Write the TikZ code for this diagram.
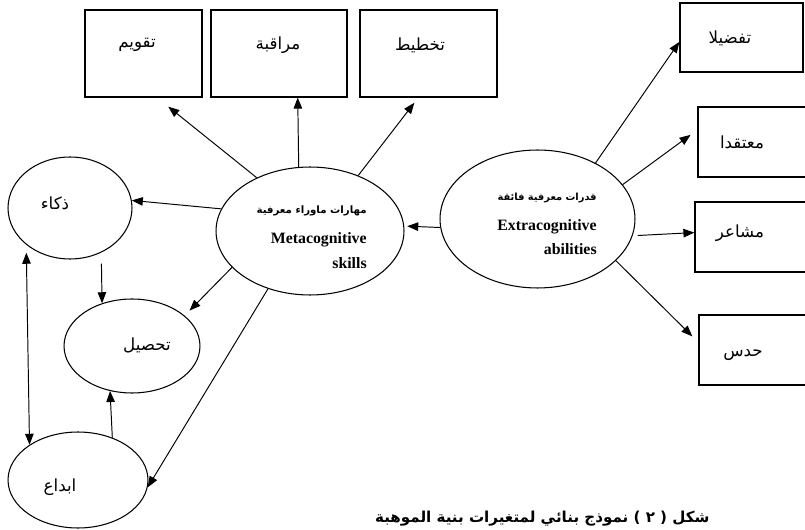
\documentclass[tikz,border=0pt]{standalone}
\usepackage{fontspec}
\setmainfont{Liberation Serif}
\newfontfamily\arabicfont[Script=Arabic]{DejaVu Sans}
\TeXXeTstate=1
\usetikzlibrary{shapes.geometric,arrows.meta}
\tikzstyle{box}=[rectangle,draw,line width=0.7pt,minimum height=1.74cm,inner sep=0pt]
\tikzstyle{oval}=[ellipse,draw,line width=0.6pt,inner sep=0pt]
\tikzstyle{ar}=[font=\arabicfont\fontsize{9.5}{12}\selectfont,inner sep=0pt]
\tikzstyle{arr}=[line width=0.55pt,-{Triangle[length=2.2mm,width=1.7mm]}]
\tikzstyle{dbl}=[line width=0.55pt,{Triangle[length=2.2mm,width=1.7mm]}-{Triangle[length=2.2mm,width=1.7mm]}]

\begin{document}
\begin{tikzpicture}[x=0.02cm,y=-0.02cm]
\useasboundingbox (0,0) rectangle (805,530);

\node (taqweem) at (143.5,53.5) [box,minimum width=2.34cm] {};
\node (muraqaba) at (279,53.5) [box,minimum width=2.72cm] {};
\node (takhtit) at (428.5,53.5) [box,minimum width=2.74cm] {};
\node (tafdila) at (741.5,37.5) [box,minimum width=2.46cm,minimum height=1.38cm] {};
\node (mutaqad) at (760,142) [box,minimum width=2.48cm,minimum height=1.4cm] {};
\node (mashaer) at (757.5,237) [box,minimum width=2.5cm,minimum height=1.4cm] {};
\node (hads) at (760.5,350) [box,minimum width=2.46cm,minimum height=1.4cm] {};

\node (taqweemtxt) at (137,45) [ar] {\beginR تقويم\endR};
\node (muraqabatxt) at (278,45) [ar] {\beginR مراقبة\endR};
\node (takhtittxt) at (420,45) [ar] {\beginR تخطيط\endR};
\node (tafdilatxt) at (730,38) [ar] {\beginR تفضيلا\endR};
\node (mutaqadtxt) at (742,142) [ar] {\beginR معتقدا\endR};
\node (mashaertxt) at (740,233) [ar] {\beginR مشاعر\endR};
\node (hadstxt) at (743,355) [ar] {\beginR حدس\endR};

\node (meta) at (310,231) [oval,minimum width=3.76cm,minimum height=2.56cm] {};
\node (extra) at (537.5,219) [oval,minimum width=3.9cm,minimum height=2.76cm] {};
\node (dhaka) at (70,208) [oval,minimum width=2.48cm,minimum height=2.04cm] {};
\node (tahsil) at (132,346) [oval,minimum width=2.72cm,minimum height=1.88cm] {};
\node (ibda) at (78,480) [oval,minimum width=2.8cm,minimum height=1.92cm] {};

\node (metatxt) at (367,237) [anchor=east,align=right,inner sep=0pt,font=\bfseries\fontsize{9}{14}\selectfont] {{\arabicfont\fontsize{5.8}{14}\selectfont\beginR مهارات ماوراء معرفية\endR}\\[3pt]Metacognitive\\skills};
\node (extratxt) at (597,224) [anchor=east,align=right,inner sep=0pt,font=\bfseries\fontsize{9}{14}\selectfont] {{\arabicfont\fontsize{5.6}{14}\selectfont\beginR قدرات معرفية فائقة\endR}\\[3pt]Extracognitive\\abilities};
\node (dhakatxt) at (55,203) [ar] {\beginR ذكاء\endR};
\node (tahsiltxt) at (147,345) [ar] {\beginR تحصيل\endR};
\node (ibdatxt) at (60,487) [ar] {\beginR ابداع\endR};

\node (caption) at (710,522) [anchor=base east,inner sep=0pt,font=\arabicfont\bfseries\fontsize{8.6}{11}\selectfont] {\beginR شكل ( ٢ ) نموذج بنائي لمتغيرات بنية الموهبة\endR};

\draw [arr,shorten >=0.29cm] (meta.135) -- (taqweem.-73);
\draw [arr] (meta.100) -- (muraqaba.-67);
\draw [arr,shorten >=0.13cm] (meta.49) -- (takhtit.-103);
\draw [arr] (meta.166) -- (dhaka.7);
\draw [arr,shorten >=0.14cm] (meta.205) -- (tahsil.30);
\draw [arr] (meta.234) -- (ibda.-6);
\draw [arr,shorten <=0.22cm] (dhaka.-55) -- (tahsil.125);
\draw [arr] (ibda.51) -- (tahsil.-116);
\draw [dbl,shorten <=0.16cm] (dhaka.220) -- (ibda.144);

\draw [arr,shorten >=0.06cm] (extra.185) -- (meta.3);
\draw [arr] (extra.44) -- (tafdila.184);
\draw [arr,shorten >=0.17cm] (extra.22) -- (mutaqad.169);
\draw [arr,shorten <=0.1cm] (extra.-10) -- (mashaer.176);
\draw [arr,shorten >=0.17cm] (extra.-28) -- (hads.173);
\end{tikzpicture}
\end{document}
